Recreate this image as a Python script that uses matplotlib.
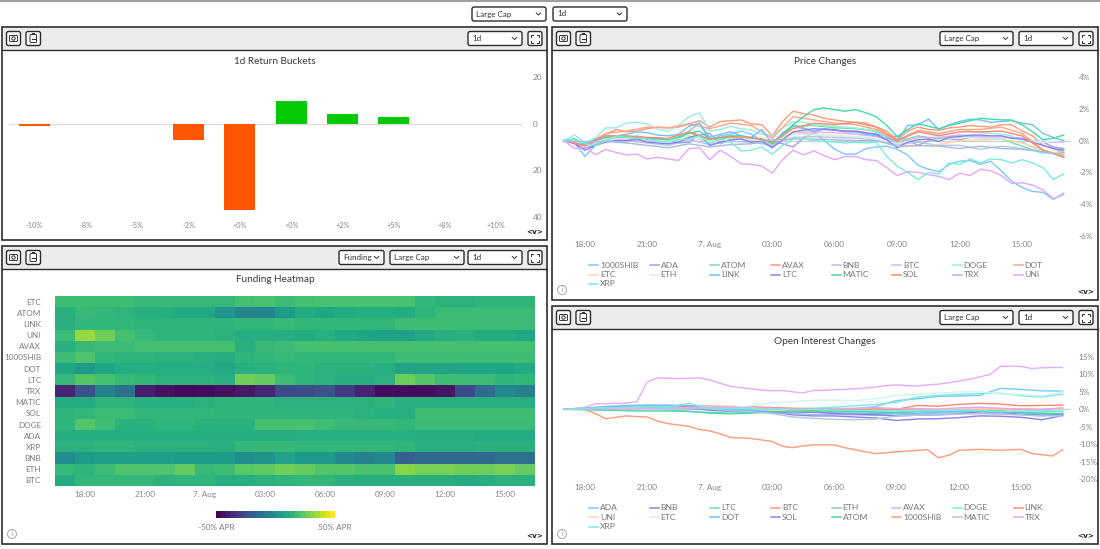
import numpy as np
import matplotlib
matplotlib.use("Agg")
import matplotlib.pyplot as plt
from matplotlib.patches import FancyBboxPatch, Rectangle, Circle

plt.rcParams['font.family'] = ['Lato', 'DejaVu Sans']

W, H = 1100, 549

# bar chart
bucket_labels = ['-10%', '-8%', '-5%', '-2%', '<0%', '>0%', '+2%', '+5%', '+8%', '+10%']
bucket_values = [-1, 0, 0, -7, -37, 10, 4, 3, 0, 0]

# heatmap, top row first, APR
heat_names = ['ETC', 'ATOM', 'LINK', 'UNI', 'AVAX', '1000SHIB', 'DOT', 'LTC', 'TRX', 'MATIC',
              'SOL', 'DOGE', 'ADA', 'XRP', 'BNB', 'ETH', 'BTC']
heat_etc = [19, 19, 19, 19, 17, 17, 17, 17, 17, 20, 21, 19, 20, 21, 21, 21, 21, 21, 16, 14, 14, 15, 15, 15]
heat_atom = [13, 17, 16, 15, 13, 12, 10, 10, 2, -5, -4, 5, 11, 9, 11, 12, 12, 11, 15, 18, 18, 18, 18, 18]
heat_link = [13, 16, 16, 16, 15, 15, 15, 15, 15, 16, 16, 17, 16, 16, 16, 16, 16, 19, 19, 19, 18, 18, 18, 18]
heat_uni = [18, 34, 28, 20, 17, 15, 15, 15, 14, 12, 12, 12, 11, 13, 10, 8, 7, 7, 10, 13, 14, 11, 11, 9]
heat_avax = [13, 17, 18, 18, 20, 20, 20, 20, 20, 13, 17, 18, 20, 20, 20, 20, 20, 20, 20, 20, 20, 20, 20, 20]
heat_shib = [18, 22, 16, 15, 15, 14, 14, 13, 12, 15, 16, 17, 16, 16, 16, 16, 16, 18, 19, 19, 19, 19, 19, 19]
heat_dot = [9, 5, 9, 12, 12, 12, 12, 12, 10, 13, 14, 15, 15, 14, 14, 14, 12, 8, 8, 8, 9, 9, 9, 11]
heat_ltc = [17, 23, 20, 17, 16, 14, 14, 14, 13, 28, 26, 19, 15, 14, 12, 12, 14, 27, 23, 19, 18, 18, 15, 16]
heat_trx = [-40, -25, -6, -13, -42, -46, -48, -47, -46, -44, -40, -28,
            -27, -25, -33, -41, -47, -47, -47, -45, -28, -15, -3, -7]
heat_matic = [11, 11, 15, 15, 13, 13, 13, 14, 15, 15, 15, 14, 14, 14, 14, 14, 15, 13, 13, 13, 13, 13, 13, 13]
heat_sol = [15, 16, 18, 18, 16, 16, 16, 16, 15, 15, 15, 15, 15, 15, 15, 14, 13, 13, 19, 19, 19, 19, 19, 19]
heat_doge = [15, 23, 19, 14, 14, 15, 15, 14, 14, 14, 21, 21, 21, 19, 17, 17, 17, 16, 18, 18, 18, 18, 18, 18]
heat_ada = [12, 12, 12, 12, 12, 12, 12, 12, 12, 12, 12, 12, 13, 13, 13, 13, 13, 13, 12, 12, 12, 11, 11, 11]
heat_xrp = [14, 14, 15, 15, 14, 14, 14, 14, 13, 16, 17, 17, 16, 16, 16, 16, 16, 15, 13, 13, 13, 14, 14, 14]
heat_bnb = [-1, 5, 6, 6, 6, 6, 5, 5, 5, -1, 2, 8, 4, 4, -3, -7, -4, -20, -16, -16, -16, -16, -13, -13]
heat_eth = [17, 15, 18, 22, 22, 22, 26, 17, 19, 24, 25, 28, 26, 23, 23, 21, 21, 32, 29, 29, 28, 28, 29, 26]
heat_btc = [11, 16, 16, 16, 16, 14, 15, 15, 12, 12, 14, 15, 16, 16, 13, 13, 13, 13, 13, 13, 11, 12, 14, 14]

# price changes %, start of window to end
price_shib = [0, -.1, -1.0, -.3, .1, .2, .1, .3, .1, .15, 0, .1, .6, 1.1, 0, .3, .4, .6, .4, 0, -.4, .4, 1.0, .8,
              .55, 0, -.55, -.85, -.85, -.5, -.4, -.35, -.55, -.9, -1.55, -1.8, -1.95, -1.5, -1.3, -1.25, -1.5,
              -1.3, -1.9, -2.55, -2.95, -3.2, -3.25, -3.7, -3.3]
price_ada = [0, -.15, -.5, -.25, 0, .15, .1, 0, .1, .15, 0, -.15, -.1, .35, .45, -.2, .05, .15, .05, .1, -.05, -.2, -.4, .15,
             .5, .75, .65, .6, .55, .45, .4, .3, .25, .05, -.3, 0, .15, .1, .05, .2, .3, .1, .15, .2, .15, 0, -.1, -.4, -.5, -.7, -.8][:49]
price_atom = [0, -.2, .3, .25, .05, 0, .5, 0, .2, .1, -.3, .9, .95, .8, .75, .6, -.1, .3, .1, .35, .2, .1, -.35, -.8, -.75]
price_avax = [0, .1, -.35, -.1, .4, .7, .55, .6, .75, .85, .8, .85, 1.05, 1.25, .85, 1.2, 1.25, 1.3, 1.05, 1.0, .3, 1.2, 1.85, 1.7,
              1.6, 1.4, 1.3, 1.2, 1.15, 1.1, .85, .6, .05, .6, .85, .7, .65, .8, .85, .95, .9, .85, 1.0, 1.0, .6, .3, -.3, -.5, -.75]
price_bnb = [0, -.15, .05, 0, -.15, -.3, .05, -.25, -.05, -.1, -.3, .2, .25, .2, .15, .05, -.25, -.1, -.3, -.3, -.55, -.35, -.5, -.7, -.85]
price_btc = [0, -.25, .1, .05, 0, -.05, .25, -.1, .1, .05, -.1, .5, .55, .5, .4, .25, -.15, .2, .2, .35, .25, .2, .1, -.1, -.1]
price_doge = [0, .35, -.1, .15, .8, .8, 1.1, 1.15, 1.05, .7, .6, .95, 1.5, 1.75, .6, .7, .9, .75, .65, .4, .3, .8, 1.2, 1.15,
              1.0, .95, .9, .85, .8, .7, .5, .3, 0, .35, .6, .5, .4, .55, .7, .6, .5, .45, .4, .3, -.1, -.4, -.8, -.8, -.6]
price_dot = [0, -.3, .45, .6, .85, .8, 1.05, .75, 1.1, .95, .15, 1.5, 1.3, 1.1, 1.0, .7, -.05, .65, .45, .7, .7, .85, .45, -.6, -1.0]
price_etc = [0, -.2, .2, .15, .05, -.05, .3, -.05, .1, .05, -.1, .5, .4, .3, .25, .1, -.4, -.35, -.25, 0, .05, .1, -.15, -.6, -.85]
price_eth = [0, -.2, .1, .1, .05, 0, .25, -.05, .1, .1, -.05, .4, .35, .3, .25, .1, -.2, .1, .05, .2, .15, .15, .05, -.1, 0]
price_link = [0, .1, -.2, .05, .3, .3, .4, .55, .5, .35, .3, .4, .9, 1.1, .2, .4, .55, .3, .2, .7, -.2, .5, .9, .75,
              .6, .75, .7, .55, .55, .4, .3, .15, 0, .95, 1.0, 1.35, .7, 1.0, 1.2, 1.35, 1.3, 1.15, 1.2, 1.25, 1.1, 1.0, .45, .2, 0]
price_ltc = [0, -.2, -.6, -.3, -.1, 0, 0, .1, -.1, -.15, -.2, -.1, .2, .35, -.3, -.1, .05, .1, -.1, -.05, -.45, .05, .55, .65,
             .75, .7, .65, .6, .6, .5, .4, .05, -.45, -.1, .05, .1, -.05, .2, .25, .35, .35, .3, .3, .15, .1, -.1, -.3, -.5, -.6]
price_matic = [0, .1, -.25, 0, .2, .25, .2, .2, .1, .1, .05, .2, .45, .6, .1, .2, .3, .3, .15, .1, -.2, .4, 1.0, 1.5,
               1.95, 2.05, 1.95, 1.85, 1.95, 1.75, 1.5, .95, .25, .7, 1.05, .9, .75, .95, 1.1, 1.25, 1.4, 1.35, 1.3, 1.3, 1.0, .55, .05, .15, .35]
price_sol = [0, -.3, .3, .3, .2, .15, .55, .1, .25, .2, -.1, .75, 1.1, 1.0, 1.15, .85, 0, .55, .3, .55, .55, .6, .3, -.6, -1.05]
price_trx = [0, -.1, -.05, -.15, -.3, -.45, -.2, -.4, -.25, -.2, .05, .1, .1, .05, 0, 0, -.35, -.3, -.35, -.5, -.35, -.5, -.55, -.7, -.9]
price_uni = [0, -.5, -.4, -.9, -.55, -.75, -.9, -.85, -1.15, -1.05, -1.15, -1.25, -.5, -.45, -1.2, -.6, -1.0, -1.45, -1.5, -1.6,
             -2.05, -1.2, -.6, -.9, -.65, -.95, -1.2, -1.0, -1.0, -1.2, -1.25, -1.7, -2.2, -1.95, -2.0, -2.15, -2.25,
             -2.45, -2.05, -2.2, -1.8, -1.9, -2.2, -2.7, -2.65, -2.8, -3.1, -3.65, -3.4]
price_xrp = [0, .1, -.2, -.3, 0, .3, .2, .15, .1, -.05, -.1, .05, .1, .3, -.2, .1, -.1, -.65, -.6, -.4, -.85, -.3, .1, .1,
             0, -.05, -.1, -.15, -.1, -.15, -.1, -1.0, -1.6, -2.0, -2.45, -2.0, -2.1, -1.4, -1.5, -1.15, -1.4, -1.15,
             -1.2, -1.4, -1.2, -1.4, -1.7, -2.45, -2.1]

# open interest changes %
oi_ada = [0, .3, .5, .9, 1.1, 1.0, .9, .8, .6, .4, .2, 0, -.2, -.1, .2, .8, 2.5, 3.0, 3.7, 3.8, 4.0, 6.0, 5.7, 5.3, 5.2]
oi_bnb = [0, .2, .4, .6, .7, .6, .6, .3, -.2, -.4, -.8, -1.6, -1.9, -1.9, -2.2, -2.5, -3.2, -2.8, -2.7, -2.4, -1.9, -2.0, -2.3, -3.0, -1.8]
oi_ltc = [0, -.2, -.3, -.2, -.1, -.2, -.6, -.9, -1.1, -.8, -.5, -.3, -.2, -.4, -.5, -.8, -1.0, -.7, -.6, -.4, -.2, -.4, -.9, -1.7, -1.2]
oi_btc = [0, .1, .1, .3, .4, .4, .3, .2, .1, 0, -.1, -.2, -.2, -.1, 0, 0, -.1, -.2, -.2, -.1, 0, .1, .1, 0, .3]
oi_eth = [0, .1, .3, .4, .5, .3, .1, -.1, -.2, -.5, -.9, -1.2, -1.5, -1.5, -1.6, -1.8, -1.7, -1.3, -1.1, -1.0, -1.1, -1.4, -1.6, -1.9, -1.4]
oi_avax = [0, .2, .5, 1.6, 1.6, 1.7, 1.8, 2.2, 7.8, 9.0, 8.9, 8.8, 8.9, 9.0, 8.4, 7.5, 6.6, 6.2, 5.9, 5.5, 5.3, 5.4, 5.0, 4.7, 5.4,
           5.4, 5.6, 5.7, 5.9, 6.1, 6.4, 6.8, 7.0, 6.8, 6.7, 7.0, 7.2, 7.6, 8.1, 8.6, 9.3, 10.0, 12.3, 12.4, 12.3, 11.7, 11.9, 12.0, 12.0]
oi_doge = [0, .1, .2, .3, .2, .1, .3, .1, -.1, -.2, -.1, .1, .3, .6, 1.0, 1.4, 2.0, 3.5, 4.0, 4.3, 4.5, 4.6, 3.9, 3.5, 4.4]
oi_link = [0, .2, .3, .4, .2, .3, .9, .9, .8, .7, .5, .3, .2, 0, -.2, .1, 0, 1.1, .9, 1.4, 1.7, 1.5, 1.0, 1.1, 1.2]
oi_uni = [0, .4, .6, .5, .3, .3, .5, .7, .6, .3, -.2, -.7, -.9, -.8, -.8, -.7, -.6, -.3, -.1, 0, .1, -.2, -.5, -.3, 0]
oi_etc = [0, .2, .2, .1, .1, .2, .3, .5, .5, 1.0, 1.8, 2.2, 2.6, 2.6, 2.5, 3.0, 4.0, 4.3, 4.6, 5.0, 5.0, 4.4, 4.2, 3.8, 5.0]
oi_dot = [0, .4, .8, 1.1, 1.2, 1.2, 1.1, .2, -.1, -.3, -.7, -.7, -.9, -1.0, -1.1, -1.2, -1.3, -1.1, -.9, -.6, -.5, -.7, -.9, -.8, -.6]
oi_sol = [0, .2, .5, .8, .6, .5, .4, -.3, -.6, -.7, -1.0, -.7, -.8, -1.2, -1.4, -1.5, -1.9, -1.7, -1.6, -1.3, -.7, -.9, -1.4, -1.7, -1.6]
oi_atom = [0, .1, -.2, -.4, -.5, -.5, -.6, -1.1, -1.3, -1.1, -.8, -.6, -.5, -.5, -.6, -.8, -.9, -.6, -.4, -.3, -.4, -.5, -.9, -1.3, -1.2]
oi_shib = [0, 0, 0, -1.2, -2.7, -2.3, -1.9, -2.1, -2.2, -3.4, -4.1, -4.5, -4.9, -5.8, -6.2, -7.0, -8.1, -8.2, -8.4, -8.8, -9.2, -10.6, -11.0,
           -10.5, -10.2, -10.2, -10.2, -11.0, -11.6, -12.2, -12.7, -12.5, -12.2, -12.0, -11.8, -11.6, -13.9, -13.2, -11.8, -11.6, -11.5, -11.6, -11.8, -11.6, -11.5, -12.7, -13.0, -13.4, -11.6]
oi_matic = [0, .3, .5, .7, .8, .7, .4, .1, -.4, -.7, -1.2, -2.2, -2.6, -2.9, -3.0, -2.8, -1.9, -1.7, -1.6, -1.4, -1.3, -1.4, -1.6, -1.9, -1.9]
oi_trx = [0, 0, .1, .1, .2, .3, .4, .5, .6, .4, .3, .1, 0, .2, .3, .5, .2, .2, .1, .4, .6, .3, 0, -.1, .4]
oi_xrp = [0, .2, .4, .5, .6, .6, 1.7, .3, .2, .3, 0, -.1, 0, -.2, -.3, -.3, -.4, -.5, -.4, -.3, -.4, -.7, -.5, -.3, -.6]

colors = {'1000SHIB': '#7cc8fa', 'ADA': '#a79bea', 'ATOM': '#6de3a8', 'AVAX': '#ff9a7c', 'BNB': '#b3c6e6',
          'BTC': '#e6abff', 'DOGE': '#93efe2', 'DOT': '#ffa488', 'ETC': '#ffd2a6', 'ETH': '#cdf6f1',
          'LINK': '#70c2fb', 'LTC': '#8a82ea', 'MATIC': '#45d9a4', 'SOL': '#ff8a6a', 'TRX': '#a3bbdf',
          'UNI': '#e3a6ff', 'XRP': '#79ecdd'}
oi_colors = {'ADA': '#7cc8fa', 'BNB': '#8a82ea', 'LTC': '#6de3a8', 'BTC': '#ff9a7c', 'ETH': '#a3bbdf',
             'AVAX': '#e6abff', 'DOGE': '#79ecdd', 'LINK': '#ff8a6a', 'UNI': '#ffd2a6', 'ETC': '#cdf6f1',
             'DOT': '#70c2fb', 'SOL': '#8a82ea', 'ATOM': '#45d9a4', '1000SHIB': '#ff9a7c', 'MATIC': '#b3c6e6',
             'TRX': '#e3a6ff', 'XRP': '#79ecdd'}

price_series = {'1000SHIB': price_shib, 'ADA': price_ada, 'ATOM': price_atom, 'AVAX': price_avax, 'BNB': price_bnb,
                'BTC': price_btc, 'DOGE': price_doge, 'DOT': price_dot, 'ETC': price_etc, 'ETH': price_eth,
                'LINK': price_link, 'LTC': price_ltc, 'MATIC': price_matic, 'SOL': price_sol, 'TRX': price_trx,
                'UNI': price_uni, 'XRP': price_xrp}
oi_series = {'ADA': oi_ada, 'BNB': oi_bnb, 'LTC': oi_ltc, 'BTC': oi_btc, 'ETH': oi_eth, 'AVAX': oi_avax,
             'DOGE': oi_doge, 'LINK': oi_link, 'UNI': oi_uni, 'ETC': oi_etc, 'DOT': oi_dot, 'SOL': oi_sol,
             'ATOM': oi_atom, '1000SHIB': oi_shib, 'MATIC': oi_matic, 'TRX': oi_trx, 'XRP': oi_xrp}

time_labels = ['18:00', '21:00', '7. Aug', '03:00', '06:00', '09:00', '12:00', '15:00']
time_ticks = [1, 4, 7, 10, 13, 16, 19, 22]

TICK = '#858585'
TITLE = '#3a3a3a'
TEXT = '#333333'

fig = plt.figure(figsize=(W / 100, H / 100), dpi=100, facecolor='white')
bg = fig.add_axes([0, 0, 1, 1])
bg.set_xlim(0, W)
bg.set_ylim(H, 0)
bg.axis('off')


def axes_px(x0, y0, x1, y1):
    ax = fig.add_axes([x0 / W, 1 - y1 / H, (x1 - x0) / W, (y1 - y0) / H])
    ax.patch.set_alpha(0)
    for s in ax.spines.values():
        s.set_visible(False)
    return ax


def button(x0, y0, x1, y1):
    bg.add_patch(FancyBboxPatch((x0 + 1, y0 + 1), x1 - x0 - 2, y1 - y0 - 2, boxstyle='round,pad=0,rounding_size=2',
                                fc='white', ec='#2c2c2c', lw=1.0, zorder=3))


def dropdown(x0, y0, x1, y1, label):
    button(x0, y0, x1, y1)
    bg.text(x0 + 5, (y0 + y1) / 2, label, fontsize=5.8, color=TEXT, va='center', ha='left', zorder=4)
    xc = x1 - 8.5
    yc = (y0 + y1) / 2
    bg.plot([xc - 2.2, xc, xc + 2.2], [yc - 1, yc + 1, yc - 1], color=TEXT, lw=0.7, zorder=4)


def panel(x0, y0, x1, y1, header_bottom, title, title_x, title_y, menus, info=True):
    bg.add_patch(Rectangle((x0, y0), x1 - x0, y1 - y0, fc='white', ec='#2e2e2e', lw=1.2, zorder=1))
    bg.add_patch(Rectangle((x0 + 1, y0 + 1), x1 - x0 - 2, header_bottom - y0 - 1, fc='#ececec', ec='none', zorder=2))
    bg.plot([x0, x1], [header_bottom, header_bottom], color='#2e2e2e', lw=1.0, zorder=2)
    by0, by1 = y0 + 3.5, y0 + 19.5
    # camera and clipboard buttons
    button(x0 + 3.5, by0, x0 + 19.5, by1)
    button(x0 + 23, by0, x0 + 39.5, by1)
    cy = (by0 + by1) / 2
    bg.add_patch(FancyBboxPatch((x0 + 7.5, cy - 3), 8, 6, boxstyle='round,pad=0,rounding_size=1', fc='none',
                                ec=TEXT, lw=0.7, zorder=4))
    bg.add_patch(Circle((x0 + 11.5, cy), 1.7, fc='none', ec=TEXT, lw=0.7, zorder=4))
    bg.add_patch(FancyBboxPatch((x0 + 28, cy - 4), 6.5, 8, boxstyle='round,pad=0,rounding_size=1', fc='none',
                                ec=TEXT, lw=0.7, zorder=4))
    bg.add_patch(Rectangle((x0 + 29.5, cy - 5.2), 3.5, 2, fc=TEXT, ec='none', zorder=4))
    bg.plot([x0 + 29.5, x0 + 33], [cy, cy], color=TEXT, lw=0.8, zorder=4)
    for m in menus:
        dropdown(m[0], by0, m[1], by1, m[2])
    # expand button
    ex0, ex1 = x1 - 20, x1 - 4
    button(ex0, by0, ex1, by1)
    xa, xb, ya, yb = ex0 + 4, ex1 - 4, by0 + 4, by1 - 4
    for px, py, dx, dy in [(xa, ya, 1, 1), (xb, ya, -1, 1), (xa, yb, 1, -1), (xb, yb, -1, -1)]:
        bg.plot([px + 2 * dx, px, px], [py, py, py + 2 * dy], color=TEXT, lw=0.7, zorder=4)
    bg.text(title_x, title_y + 1, title, fontsize=7.2, color=TITLE, ha='center', va='center', zorder=4)
    bg.text(x1 - 12, y1 - 7.5, '<v>', fontsize=5.2, color='#222222', ha='center', va='center',
            fontweight='bold', family='DejaVu Sans', zorder=4)
    if info:
        bg.add_patch(Circle((x0 + 10, y1 - 10), 4.5, fc='none', ec='#a8a8a8', lw=0.7, zorder=4))
        bg.text(x0 + 10, y1 - 10, 'i', fontsize=5, color='#999999', ha='center', va='center', zorder=4)


def line_legend(names, palette, rows_y):
    col_x = [589, 649.5, 710, 771, 831.5, 892, 952.5, 1013.5]
    for i, name in enumerate(names):
        x = col_x[i % 8]
        y = rows_y[i // 8]
        bg.plot([x, x + 9], [y, y], color=palette[name], lw=1.1, zorder=4)
        bg.text(x + 11, y, name, fontsize=6.1, color='#777777', ha='left', va='center', zorder=4)


def line_chart(box, series, palette, ylim, yticks, ylabels, xlim):
    ax = axes_px(*box)
    ax.axhline(0, color='#d0d0d0', lw=0.9, zorder=1)
    for name in series:
        vals = series[name]
        t = np.linspace(0, 24, len(vals))
        ax.plot(t, vals, color=palette[name], lw=1.0, solid_joinstyle='round', zorder=2)
    ax.set_xlim(*xlim)
    ax.set_ylim(*ylim)
    ax.yaxis.tick_right()
    ax.set_yticks(yticks)
    ax.set_yticklabels(ylabels)
    ax.set_xticks(time_ticks)
    ax.set_xticklabels(time_labels)
    ax.tick_params(axis='y', length=0, pad=5.5, labelsize=5.9, labelcolor=TICK)
    ax.tick_params(axis='x', length=0, pad=3.5, labelsize=5.9, labelcolor=TICK)
    return ax


# page chrome
bg.plot([0, W], [0.5, 0.5], color='#8c8c8c', lw=1.2)
dropdown(471, 6, 547, 22, 'Large Cap')
dropdown(552, 6, 628, 22, '1d')

panel(2, 27, 547, 240, 50, '1d Return Buckets', 275, 60, [(467, 523, '1d')], info=False)
panel(2, 246, 547, 544, 268.5, 'Funding Heatmap', 275, 279,
      [(338, 385, 'Funding'), (389, 465, 'Large Cap'), (467, 523, '1d')])
panel(552, 27, 1098, 300, 50, 'Price Changes', 825, 60, [(939, 1014, 'Large Cap'), (1018, 1074, '1d')])
panel(552, 306, 1098, 544, 329, 'Open Interest Changes', 825, 340, [(939, 1014, 'Large Cap'), (1018, 1074, '1d')])

# bars
ax = axes_px(9, 77.3, 522, 216.7)
bar_colors = ['#ff5500' if v < 0 else '#04c904' for v in bucket_values]
ax.axhline(0, color='#dcdcdc', lw=1.0, zorder=1)
ax.bar(range(len(bucket_values)), bucket_values, width=0.6, color=bar_colors, zorder=2)
ax.set_xlim(-0.5, 9.5)
ax.set_ylim(-40, 20)
ax.yaxis.tick_right()
ax.set_yticks([20, 0, -20, -40])
ax.set_yticklabels(['20', '0', '20', '40'])
ax.set_xticks(range(len(bucket_labels)))
ax.set_xticklabels(bucket_labels)
ax.tick_params(axis='y', length=0, pad=8, labelsize=5.9, labelcolor=TICK)
ax.tick_params(axis='x', length=0, pad=3.5, labelsize=5.3, labelcolor=TICK)

# heatmap
heat = np.array([heat_etc, heat_atom, heat_link, heat_uni, heat_avax, heat_shib, heat_dot, heat_ltc, heat_trx,
                 heat_matic, heat_sol, heat_doge, heat_ada, heat_xrp, heat_bnb, heat_eth, heat_btc])
ax = axes_px(55, 296, 535, 486)
ax.pcolormesh(np.arange(25), np.arange(18), heat, cmap='viridis', vmin=-50, vmax=50)
ax.set_xlim(0, 24)
ax.set_ylim(17, 0)
ax.set_yticks(np.arange(17) + 0.5)
ax.set_yticklabels(heat_names)
ax.set_xticks([t + 0.5 for t in time_ticks])
ax.set_xticklabels(time_labels)
ax.tick_params(axis='y', length=0, pad=10, labelsize=5.9, labelcolor='#7d7d7d')
ax.tick_params(axis='x', length=0, pad=3.5, labelsize=5.9, labelcolor=TICK)

cax = axes_px(216, 511, 335, 518.5)
cax.imshow(np.linspace(-50, 50, 24).reshape(1, -1), cmap='viridis', vmin=-50, vmax=50, aspect='auto')
cax.set_xticks([])
cax.set_yticks([])
bg.text(216, 528, '-50% APR', fontsize=5.9, color='#7d7d7d', ha='center', va='center')
bg.text(335, 528, '50% APR', fontsize=5.9, color='#7d7d7d', ha='center', va='center')

# lines
line_chart((562, 77, 1071, 236), price_series, colors, (-6, 4), [4, 2, 0, -2, -4, -6],
           ['4%', '2%', '0%', '-2%', '-4%', '-6%'], (-0.1, 24.35))
line_legend(list(price_series), colors, [265, 274.5, 284])

line_chart((562, 357, 1071, 479), oi_series, oi_colors, (-20, 15), [15, 10, 5, 0, -5, -10, -15, -20],
           ['15%', '10%', '5%', '0%', '-5%', '-10%', '-15%', '-20%'], (-0.1, 24.4))
line_legend(list(oi_series), oi_colors, [507.5, 517, 526.5])

fig.savefig('out.png', dpi=100)
